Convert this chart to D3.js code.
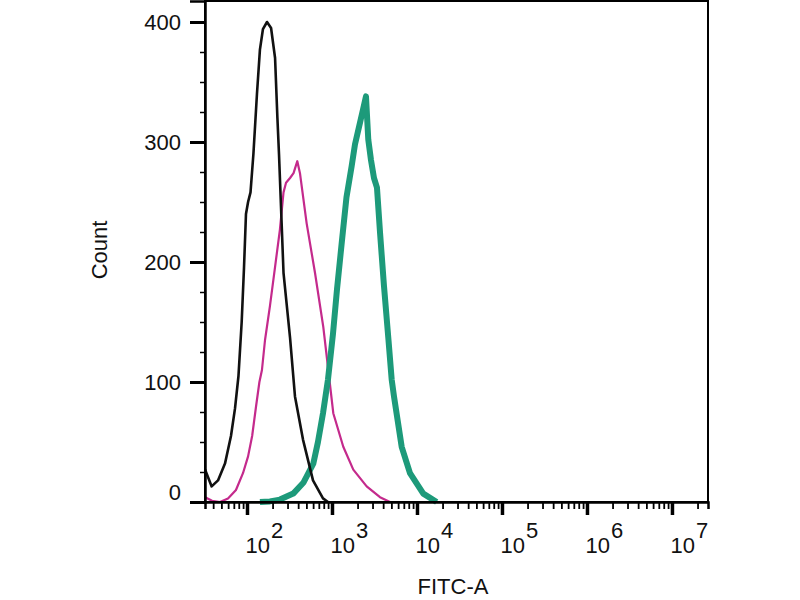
<!DOCTYPE html>
<html>
<head>
<meta charset="utf-8">
<script src="https://cdn.jsdelivr.net/npm/d3@7"></script>
<style>
  body { margin: 0; background: #fff; }
  svg { display: block; font-family: "Liberation Sans", Arial, sans-serif; }
</style>
</head>
<body>
<svg id="chart" width="800" height="600"></svg>
<script>
// --- data (FITC-A intensity, count) ---
const isotypeX = [32.1, 38.4, 45.6, 55.1, 64.8, 72.3, 79.4, 86.6, 92.2, 97.3, 103, 110, 119, 131, 142, 154, 172, 192, 214, 228, 238, 269, 321, 367, 456, 598, 784, 897];
const isotypeY = [27, 13, 18, 32, 55, 78, 105, 150, 195, 240, 250, 258, 290, 340, 377, 394, 400, 395, 370, 320, 290, 191, 137, 88, 52, 18, 3, 0];

const controlX = [32.1, 38.8, 48.1, 59.8, 74.2, 89.7, 103, 115, 128, 140, 150, 163, 186, 214, 244, 269, 288, 321, 353, 391, 420, 504, 631, 790, 905, 1036, 1358, 1781, 2559, 3671, 4814];
const controlY = [4, 1, 0, 3, 10, 24, 38, 55, 80, 100, 110, 135, 163, 196, 227, 258, 266, 270, 274, 284, 274, 232, 191, 146, 110, 74, 46, 27, 13, 4, 0];

const sampleX = [142, 186, 244, 350, 460, 603, 684, 784, 897, 1027, 1145, 1311, 1481, 1705, 1865, 2135, 2316, 2512, 2674, 2876, 3120, 3383, 3671, 4091, 4621, 5040, 5364, 6607, 8272, 11863, 17052];
const sampleY = [0, 0.5, 2, 7, 16, 32, 50, 74, 102, 140, 177, 218, 254, 280, 298, 316, 327, 338, 302, 285, 270, 262, 225, 180, 135, 102, 88, 46, 24, 7, 0];

const yTicks = [0, 100, 200, 300, 400];
const xDecades = [2, 3, 4, 5, 6, 7];

// --- layout ---
const svg = d3.select("#chart");
const plotLeft = 205, plotRight = 708, plotTop = 1, plotBottom = 502;

const x = d3.scaleLog()
    .domain([Math.pow(10, 1.506), Math.pow(10, 7.424)])
    .range([plotLeft, plotRight]);
const y = d3.scaleLinear()
    .domain([0, 417.5])
    .range([plotBottom, plotTop]);

// --- curves ---
const line = d3.line()
    .x(d => x(d[0]))
    .y(d => y(d[1]));

const series = [
    { xs: controlX, ys: controlY, color: "#c42a8c", width: 2.2 },
    { xs: sampleX, ys: sampleY, color: "#1d9a7a", width: 6 },
    { xs: isotypeX, ys: isotypeY, color: "#111", width: 2.6 }
];

series.forEach(s => {
    svg.append("path")
        .datum(d3.zip(s.xs, s.ys))
        .attr("fill", "none")
        .attr("stroke", s.color)
        .attr("stroke-width", s.width)
        .attr("stroke-linejoin", "round")
        .attr("d", line);
});

// --- frame ---
svg.append("rect")
    .attr("x", plotLeft).attr("y", plotTop)
    .attr("width", plotRight - plotLeft).attr("height", plotBottom - plotTop)
    .attr("fill", "none")
    .attr("stroke", "#000")
    .attr("stroke-width", 2);

// --- Y axis ---
const yMinor = d3.range(0, 425, 25).filter(v => v % 100 !== 0);
svg.append("g")
    .attr("transform", `translate(${plotLeft},0)`)
    .call(d3.axisLeft(y).tickValues(yMinor).tickSize(5).tickFormat(""))
    .call(g => g.select(".domain").remove())
    .selectAll(".tick line").attr("stroke-width", 1.5);

const yAxis = svg.append("g")
    .attr("transform", `translate(${plotLeft},0)`)
    .call(d3.axisLeft(y).tickValues(yTicks).tickSize(15).tickPadding(9))
    .call(g => g.select(".domain").attr("stroke-width", 2.5));

yAxis.selectAll(".tick line").attr("stroke-width", 3);
yAxis.selectAll(".tick text")
    .attr("font-size", "22px")
    .attr("fill", "#111")
    .attr("font-family", "Liberation Sans, Arial, sans-serif")
    .attr("dy", d => d === 0 ? "-0.12em" : "0.32em");

// --- X axis ---
const majors = xDecades.map(p => Math.pow(10, p));
const minors = [];
for (let p = 1; p <= 7; p++) {
    for (let m = 2; m <= 9; m++) {
        const v = m * Math.pow(10, p);
        if (v >= x.domain()[0] && v <= x.domain()[1]) minors.push(v);
    }
}

svg.append("g")
    .attr("transform", `translate(0,${plotBottom})`)
    .call(d3.axisBottom(x).tickValues(minors).tickSize(7).tickFormat(""))
    .call(g => g.select(".domain").attr("stroke-width", 2.5))
    .selectAll(".tick line").attr("stroke-width", 1.8);

const xAxis = svg.append("g")
    .attr("transform", `translate(0,${plotBottom})`)
    .call(d3.axisBottom(x).tickValues(majors).tickSize(13).tickFormat(""))
    .call(g => g.select(".domain").remove());

xAxis.selectAll(".tick line").attr("stroke-width", 3.5);

xAxis.selectAll(".tick")
    .append("text")
    .attr("x", -2)
    .attr("y", 51)
    .attr("text-anchor", "start")
    .attr("fill", "#111")
    .attr("font-size", "22px")
    .each(function(d) {
        const t = d3.select(this);
        t.append("tspan").text("10");
        t.append("tspan")
            .attr("dy", -15)
            .attr("dx", 1)
            .text(Math.round(Math.log10(d)));
    });

// --- axis titles ---
svg.append("text")
    .attr("transform", "translate(107,250) rotate(-90)")
    .attr("text-anchor", "middle")
    .attr("font-size", "22px")
    .attr("fill", "#111")
    .text("Count");

svg.append("text")
    .attr("x", 453)
    .attr("y", 594)
    .attr("text-anchor", "middle")
    .attr("font-size", "22px")
    .attr("fill", "#111")
    .text("FITC-A");
</script>
</body>
</html>
